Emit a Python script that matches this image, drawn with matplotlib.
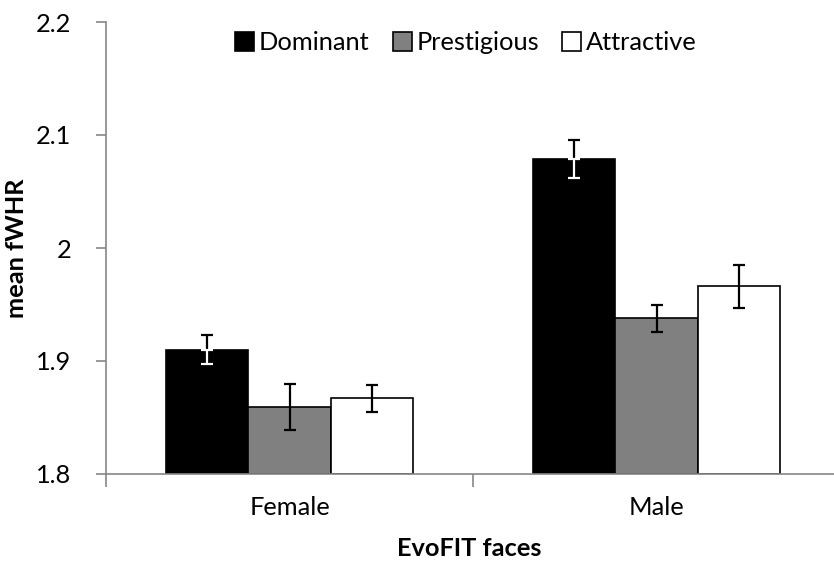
import matplotlib
matplotlib.use("Agg")
import matplotlib.pyplot as plt
from matplotlib.patches import Patch
import numpy as np

categories = ["Female", "Male"]
series = ["Dominant", "Prestigious", "Attractive"]
means = {
    "Dominant":    [1.910, 2.079],
    "Prestigious": [1.859, 1.938],
    "Attractive":  [1.867, 1.966],
}
errors = {
    "Dominant":    [0.013, 0.017],
    "Prestigious": [0.0205, 0.012],
    "Attractive":  [0.012, 0.019],
}
colors = {"Dominant": "#000000", "Prestigious": "#808080", "Attractive": "#ffffff"}
yticks = [1.8, 1.9, 2.0, 2.1, 2.2]
ytick_labels = ["1.8", "1.9", "2", "2.1", "2.2"]

FONT = "Lato"
FS = 18.3
plt.rcParams["font.family"] = [FONT, "DejaVu Sans"]

W, H = 834, 561
fig = plt.figure(figsize=(W / 100, H / 100), dpi=100)
x0, x1, ytop, ybot = 106, 840, 22, 474
ax = fig.add_axes([x0 / W, (H - ybot) / H, (x1 - x0) / W, (ybot - ytop) / H])

axis_col = "#868686"
bw = 0.2235
x = np.arange(len(categories))
for i, s in enumerate(series):
    off = (i - 1) * bw
    ax.bar(x + off, np.array(means[s]) - 1.8, bw, bottom=1.8, color=colors[s],
           edgecolor="black", linewidth=1.2, zorder=2)
    ax.errorbar(x + off, means[s], yerr=errors[s], fmt="none", ecolor="black",
                elinewidth=1.6, capsize=4, capthick=1.6, zorder=3)
    if s == "Dominant":
        # lower half of the error bar drawn in white inside the black bar
        ax.errorbar(x + off, means[s], yerr=[errors[s], [0, 0]], fmt="none",
                    ecolor="white", elinewidth=1.6, capsize=4, capthick=1.6, zorder=4)

ax.set_xlim(-0.5, 1.5)
ax.set_ylim(1.8, 2.2)
ax.set_yticks(yticks)
ax.set_yticklabels(ytick_labels)
ax.set_xticks([-0.5, 0.5, 1.5])
ax.set_xticklabels([])
ax.set_xticks(x, minor=True)
ax.set_xticklabels(categories, minor=True)
ax.tick_params(axis="x", which="minor", length=0, pad=16, labelsize=FS, colors="black")
ax.tick_params(axis="x", which="major", length=9, width=1.2, color=axis_col, direction="out")
ax.tick_params(axis="y", length=7, width=1.2, color=axis_col, direction="out", pad=18,
               labelsize=FS, labelcolor="black")

for side in ["top", "right"]:
    ax.spines[side].set_visible(False)
for side in ["left", "bottom"]:
    ax.spines[side].set_color(axis_col)
    ax.spines[side].set_linewidth(1.2)
    ax.spines[side].set_zorder(5)

ax.set_ylabel("mean fWHR", fontsize=FS, fontweight="bold")
ax.yaxis.set_label_coords(-(106 - 28) / (x1 - x0), (474 - 248) / (ybot - ytop))
fig.text(469 / W, 1 - 548 / H, "EvoFIT faces", fontsize=FS, fontweight="bold",
         ha="center", va="center")

handles = [Patch(facecolor=colors[s], edgecolor="black", linewidth=1.2, label=s) for s in series]
leg = ax.legend(handles=handles, ncol=3, loc="center", bbox_to_anchor=((466 - x0) / (x1 - x0), (474 - 43) / (ybot - ytop)),
                frameon=False, fontsize=FS, handlelength=0.75, handleheight=0.75,
                handletextpad=0.2, columnspacing=0.9, borderaxespad=0)

fig.savefig("out.png", dpi=100, facecolor="white")
